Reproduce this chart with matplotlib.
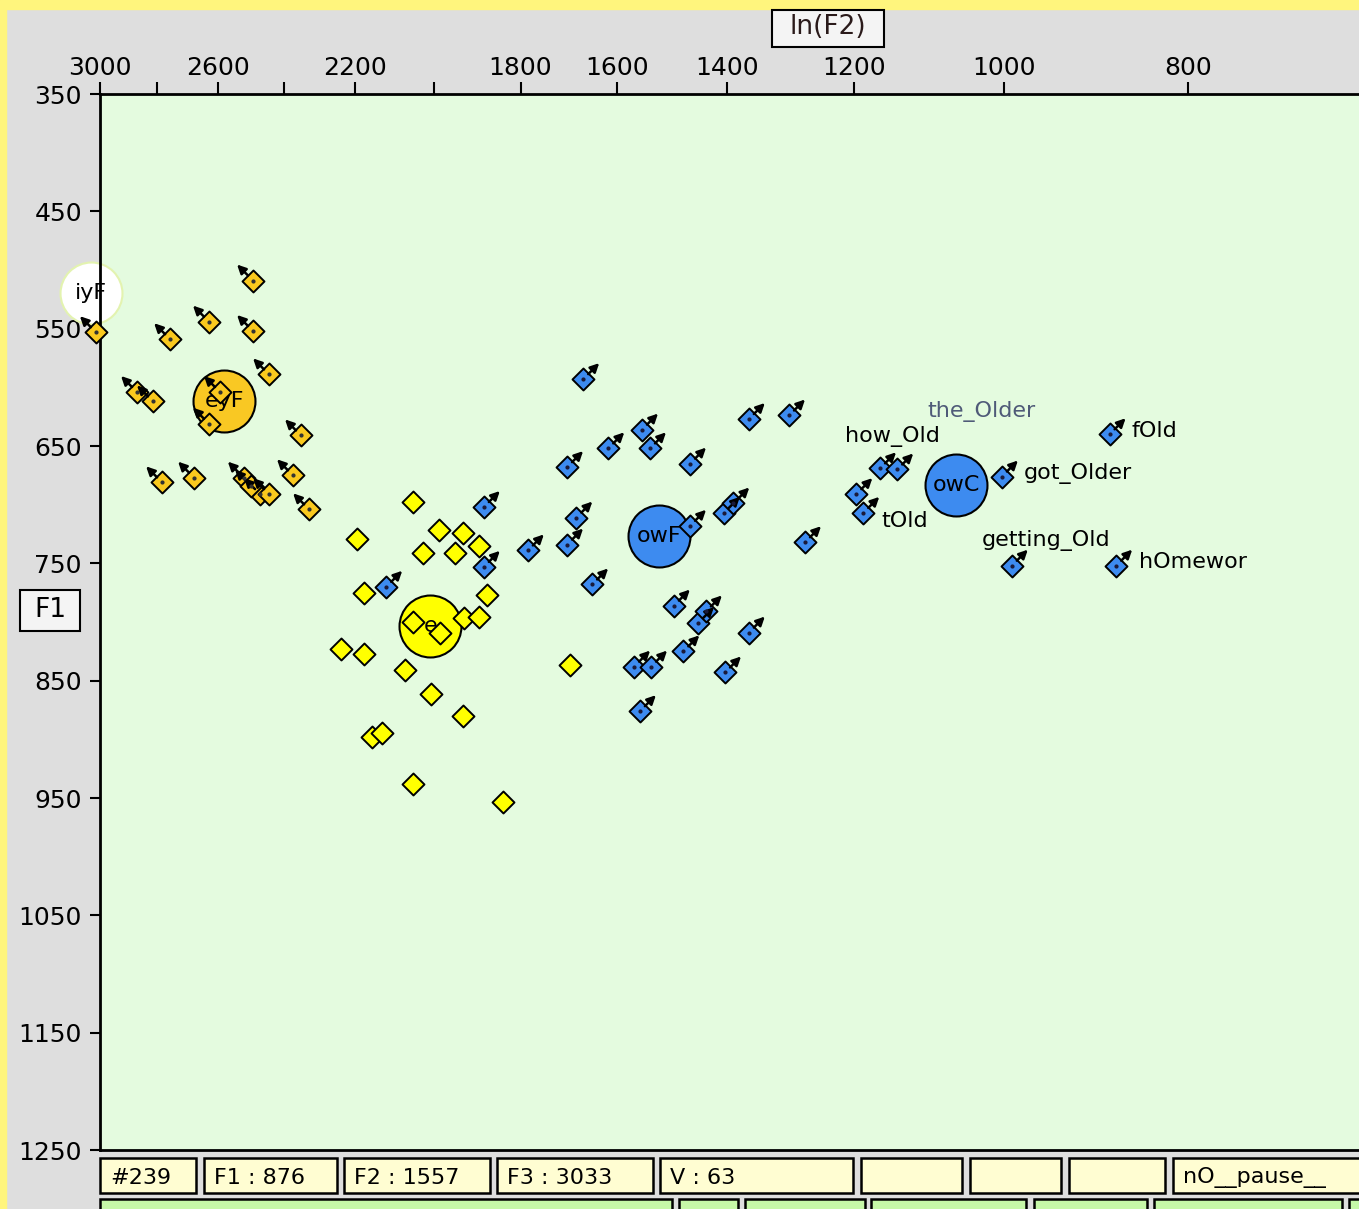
import numpy as np
import matplotlib
matplotlib.use('Agg')
import matplotlib.pyplot as plt
from matplotlib.patches import Rectangle
from matplotlib.transforms import offset_copy
from matplotlib.ticker import FixedLocator, NullLocator

# vowel tokens, F2 / F1 in Hz
ey_f2 = [2491, 2628, 2491, 2755, 3015, 2443, 2868, 2813, 2593, 2628, 2350,
         2782, 2676, 2519, 2373, 2470, 2443, 2327, 2497]
ey_f1 = [509, 544, 552, 559, 553, 589, 604, 612, 604, 631, 641,
         681, 677, 677, 675, 691, 691, 704, 684]

e_f2 = [2051, 2195, 1987, 1930, 1893, 2026, 1949, 2177, 1875, 2051, 1985, 1928,
        1893, 2239, 2177, 2071, 2007, 1930, 2156, 2130, 2051, 1838, 1695]
e_f1 = [698, 729, 722, 724, 735, 741, 741, 775, 777, 800, 809, 797,
        796, 823, 827, 841, 861, 880, 898, 895, 938, 953, 837]

ow_f2 = [1882, 1784, 1882, 2119, 1668, 1553, 1618, 1538, 1701, 1465, 1364, 1299,
         1406, 1390, 1465, 1682, 1701, 1274, 1650, 1494, 1451, 1437, 1364, 1477,
         1568, 1536, 1404, 1557, 880, 1163, 1139, 1197, 1187, 1003, 991, 873]
ow_f1 = [702, 739, 753, 770, 593, 636, 652, 652, 668, 665, 627, 624,
         707, 699, 718, 711, 734, 732, 768, 786, 801, 791, 809, 825,
         838, 838, 843, 876, 640, 669, 670, 691, 707, 676, 752, 752]

# word labels on some ow tokens
word_idx = [28, 29, 32, 33, 34, 35]
word_txt = ['fOld', 'how_Old', 'tOld', 'got_Older', 'getting_Old', 'hOmewor']
word_off = [(22, 3), (-35, 32), (18, -8), (22, 3), (-30, 25), (23, 4)]

# class means
mean_names = ['iyF', 'eyF', 'e', 'owF', 'owC']
mean_f2 = [3033, 2580, 2009, 1521, 1060]
mean_f1 = [520, 612, 803, 727, 683]
mean_cols = ['white', '#F9C823', '#FFFF00', '#3D8BF0', '#3D8BF0']

x_ticks = [3000, 2800, 2600, 2400, 2200, 2000, 1800, 1600, 1400, 1200, 1000, 800]
x_labels = ['3000', '', '2600', '', '2200', '', '1800', '1600', '1400', '1200', '1000', '800']
y_ticks = list(range(350, 1251, 100))

status = ['#239', 'F1 : 876', 'F2 : 1557', 'F3 : 3033', 'V : 63', '', '', '', 'nO__pause__']

W, H = 1359, 1209
fig = plt.figure(figsize=(W / 100, H / 100), dpi=100, facecolor='#DEDEDE')

# window chrome drawn in pixel coords
ov = fig.add_axes([0, 0, 1, 1], zorder=-1)
ov.set_xlim(0, W)
ov.set_ylim(H, 0)
ov.axis('off')
ov.add_patch(Rectangle((0, 0), W, 9, color='#FFF57D'))
ov.add_patch(Rectangle((0, 0), 6, H, color='#FFF57D'))
ov.add_patch(Rectangle((772, 10), 112, 37, facecolor='#F4F4F4', edgecolor='black', lw=1.5))
ov.text(828, 27, 'ln(F2)', fontsize=19, ha='center', va='center', color='#2a1a1a')
ov.add_patch(Rectangle((20, 590), 60, 41, facecolor='#F4F4F4', edgecolor='black', lw=1.5))
ov.text(50, 610, 'F1', fontsize=19, ha='center', va='center')

box_x = [100, 204, 344, 497, 660, 861, 970, 1069, 1173]
box_w = [96, 133, 146, 156, 193, 101, 91, 96, 200]
for bx, bw, s in zip(box_x, box_w, status):
    ov.add_patch(Rectangle((bx, 1158), bw, 35, facecolor='#FFFDD2', edgecolor='black', lw=1.8))
    ov.text(bx + 10, 1178, s, fontsize=16, ha='left', va='center')
green_x = [100, 679, 745, 871, 1034, 1154, 1349]
green_w = [572, 59, 120, 155, 113, 188, 20]
for gx, gw in zip(green_x, green_w):
    ov.add_patch(Rectangle((gx, 1199), gw, 20, facecolor='#C6F8A8', edgecolor='black', lw=1.8))

ax = fig.add_axes([100 / W, (H - 1150) / H, (W - 100) / W, (1150 - 94) / H])
ax.set_facecolor('#E4FBDF')
ax.set_xscale('log')
ax.set_xlim(3000, 650)
ax.set_ylim(1250, 350)
ax.xaxis.tick_top()
ax.xaxis.set_major_locator(FixedLocator(x_ticks))
ax.xaxis.set_minor_locator(NullLocator())
ax.set_xticklabels(x_labels)
ax.set_yticks(y_ticks)
ax.set_yticklabels([str(v) for v in y_ticks])
ax.tick_params(axis='x', direction='out', length=9, width=1.5, labelsize=18, pad=1)
ax.tick_params(axis='y', direction='out', length=7, width=1.5, labelsize=18, pad=6)
for side in ['top', 'left', 'bottom']:
    ax.spines[side].set_linewidth(2)
ax.spines['right'].set_visible(False)


def arrows(xs, ys, dx):
    start = offset_copy(ax.transData, fig, x=5 * dx, y=5, units='dots')
    head = offset_copy(ax.transData, fig, x=16 * dx, y=16, units='dots')
    for x, y in zip(xs, ys):
        ax.annotate('', xy=(x, y), xycoords=head, xytext=(x, y), textcoords=start,
                    arrowprops=dict(arrowstyle='-|>', color='black', lw=1.8,
                                    mutation_scale=13, shrinkA=0, shrinkB=0),
                    annotation_clip=False)


# means first, tokens on top
for n, fx, fy, c in zip(mean_names, mean_f2, mean_f1, mean_cols):
    ec = '#E3F3B0' if c == 'white' else 'black'
    ax.scatter([fx], [fy], s=1990, marker='o', color=c, edgecolors=ec, linewidths=1.5,
               zorder=2, clip_on=False)
    ax.text(fx, fy, n, fontsize=16, ha='center', va='center', zorder=2.5)

ax.scatter(ey_f2, ey_f1, s=125, marker='D', color='#FAC91E', edgecolors='black',
           linewidths=1.4, zorder=3, clip_on=False)
ax.scatter(ey_f2, ey_f1, s=4, color='#333333', zorder=3.1, clip_on=False)
arrows(ey_f2, ey_f1, -1)

ax.scatter(e_f2, e_f1, s=125, marker='D', color='#FFFF00', edgecolors='black',
           linewidths=1.4, zorder=3)

ax.scatter(ow_f2, ow_f1, s=125, marker='D', color='#3D8BF0', edgecolors='black',
           linewidths=1.4, zorder=3)
ax.scatter(ow_f2, ow_f1, s=4, color='#1a1a3a', zorder=3.1)
arrows(ow_f2, ow_f1, 1)

for i, t, (ox, oy) in zip(word_idx, word_txt, word_off):
    ax.annotate(t, xy=(ow_f2[i], ow_f1[i]), xytext=(ox, oy), textcoords='offset pixels',
                fontsize=16, ha='left', va='center', zorder=4)
ax.annotate('the_Older', xy=(mean_f2[4], mean_f1[4]), xytext=(-29, 73),
            textcoords='offset pixels', fontsize=16, ha='left', va='center',
            color='#4F5A78', zorder=4)

fig.savefig('out.png', dpi=100, facecolor=fig.get_facecolor())
